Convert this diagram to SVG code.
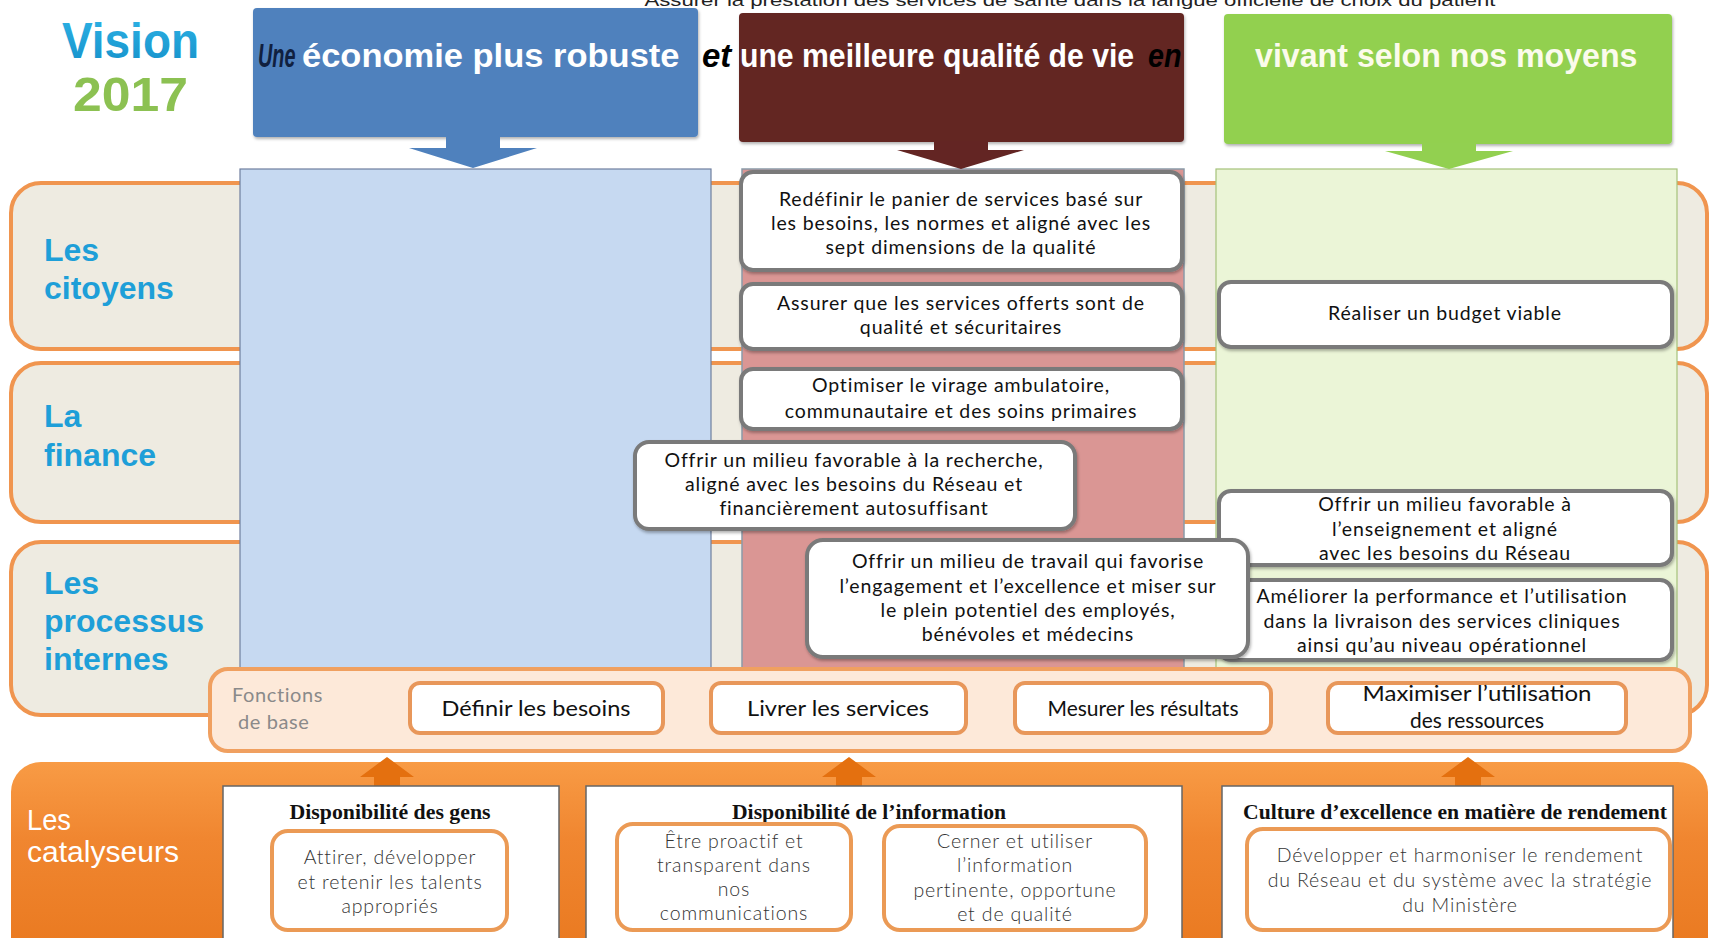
<svg xmlns="http://www.w3.org/2000/svg" width="1711" height="938" viewBox="0 0 1711 938">
<defs>
<style>
.row{fill:#eeebe1;stroke:#f0954f;stroke-width:4}
.lbl{font-family:"Liberation Sans",Arial,sans-serif;font-weight:bold;font-size:32px;fill:#1e9fd8}
.obj{fill:#fff;stroke:#7a7a7a;stroke-width:4}
.ot{font-family:Lato,"Open Sans",sans-serif;font-size:19.5px;letter-spacing:0.85px;fill:#111;text-anchor:middle}
.btn{fill:#fff;stroke:#e8975a;stroke-width:4}
.bt{font-family:Lato,"Open Sans",sans-serif;font-size:21px;fill:#111;text-anchor:middle}
.hd{font-family:"Liberation Sans",Arial,sans-serif;font-weight:bold;font-size:33px}
.cat{fill:#fff;stroke:#666;stroke-width:1.5}
.ct{font-family:"Liberation Serif","Times New Roman",serif;font-weight:bold;font-size:20px;fill:#111;text-anchor:middle}
.inn{fill:#fff;stroke:#eb9a55;stroke-width:4}
.it{font-family:Lato,"Open Sans",sans-serif;font-weight:300;font-size:19.5px;letter-spacing:0.85px;fill:#333;text-anchor:middle}
.up{fill:#e4700f}
</style>
<linearGradient id="catg" x1="0" y1="0" x2="0" y2="1">
<stop offset="0" stop-color="#f89b45"/>
<stop offset="0.35" stop-color="#f08630"/>
<stop offset="1" stop-color="#e8761c"/>
</linearGradient>
<linearGradient id="vis" x1="0" y1="0" x2="0" y2="1">
<stop offset="0" stop-color="#2eb3e6"/>
<stop offset="1" stop-color="#1590c9"/>
</linearGradient>
<filter id="sh" x="-5%" y="-10%" width="110%" height="125%">
<feDropShadow dx="1" dy="2" stdDeviation="1.5" flood-color="#000" flood-opacity="0.3"/>
</filter>
</defs>
<rect width="1711" height="938" fill="#fff"/>

<text x="1070" y="6" text-anchor="middle" font-family="Liberation Sans, Arial, sans-serif" font-size="17" fill="#222" textLength="851" lengthAdjust="spacingAndGlyphs">Assurer la prestation des services de santé dans la langue officielle de choix du patient</text>

<g id="vision">
<text x="62" y="58" font-family="Liberation Sans, Arial, sans-serif" font-weight="bold" font-size="50" fill="url(#vis)" textLength="137" lengthAdjust="spacingAndGlyphs">Vision</text>
<text x="73" y="111" font-family="Liberation Sans, Arial, sans-serif" font-weight="bold" font-size="48" fill="#8cc152" textLength="115" lengthAdjust="spacingAndGlyphs">2017</text>
</g>

<g id="rows">
<g id="row-citoyens"><rect class="row" x="11" y="183" width="1696" height="166" rx="30"/></g>
<g id="row-finance"><rect class="row" x="11" y="363" width="1696" height="159" rx="30"/></g>
<g id="row-processus"><rect class="row" x="11" y="542" width="1696" height="173" rx="30"/></g>
</g>

<g id="columns">
<rect x="240" y="169" width="471" height="499" fill="#c6d9f1" stroke="#6f7f9f" stroke-width="1.2"/>
<rect x="742" y="169" width="442" height="499" fill="#da9694" stroke="#8a9aa8" stroke-width="1.5"/>
<rect x="1216" y="169" width="461" height="499" fill="#ebf5d7" stroke="#a5c27a" stroke-width="1.2"/>
</g>

<g id="header-boxes">
<g id="h-economie">
<rect x="253" y="8" width="445" height="129" rx="4" fill="#4f81bd" filter="url(#sh)"/>
<path d="M446 136 H500 V148 H537 L473 168 L409 148 H446 Z" fill="#4f81bd"/>
</g>
<g id="h-qualite">
<rect x="739" y="13" width="445" height="129" rx="4" fill="#632523" filter="url(#sh)"/>
<path d="M934 141 H988 V150 H1024 L961 169 L897 150 H934 Z" fill="#632523"/>
</g>
<g id="h-moyens">
<rect x="1224" y="14" width="448" height="130" rx="4" fill="#92d050" filter="url(#sh)"/>
<path d="M1422 143 H1476 V151 H1513 L1449 169 L1385 151 H1422 Z" fill="#92d050"/>
</g>
</g>

<g id="header-text">
<text class="hd" transform="translate(258 67) scale(0.6 1)" fill="#10203f" font-style="italic">Une</text>
<text class="hd" transform="translate(302 67) scale(1.045 1)" fill="#fff">économie plus robuste</text>
<text class="hd" transform="translate(702 67)" fill="#000" font-style="italic">et</text>
<text class="hd" transform="translate(740 67) scale(0.915 1)" fill="#fff">une meilleure qualité de vie</text>
<text class="hd" transform="translate(1148 67) scale(0.87 1)" fill="#000" font-style="italic">en</text>
<text class="hd" transform="translate(1255 67) scale(0.975 1)" fill="#fbfbec">vivant selon nos moyens</text>
</g>

<g id="row-labels">
<text class="lbl" x="44" y="261">Les</text>
<text class="lbl" x="44" y="299">citoyens</text>
<text class="lbl" x="44" y="427">La</text>
<text class="lbl" x="44" y="466">finance</text>
<text class="lbl" x="44" y="594">Les</text>
<text class="lbl" x="44" y="632">processus</text>
<text class="lbl" x="44" y="670">internes</text>
</g>

<g id="obj1"><rect class="obj" x="741" y="172" width="441" height="98" rx="12" filter="url(#sh)"/>
<text class="ot" x="961" y="206">Redéfinir le panier de services basé sur</text>
<text class="ot" x="961" y="230">les besoins, les normes et aligné avec les</text>
<text class="ot" x="961" y="254">sept dimensions de la qualité</text></g>
<g id="obj2"><rect class="obj" x="741" y="284" width="441" height="65" rx="12" filter="url(#sh)"/>
<text class="ot" x="961" y="310">Assurer que les services offerts sont de</text>
<text class="ot" x="961" y="334">qualité et sécuritaires</text></g>
<g id="obj3"><rect class="obj" x="741" y="369" width="441" height="60" rx="12" filter="url(#sh)"/>
<text class="ot" x="961" y="392">Optimiser le virage ambulatoire,</text>
<text class="ot" x="961" y="418">communautaire et des soins primaires</text></g>
<g id="obj4"><rect class="obj" x="635" y="442" width="440" height="87" rx="14" filter="url(#sh)"/>
<text class="ot" x="854" y="467">Offrir un milieu favorable à la recherche,</text>
<text class="ot" x="854" y="491">aligné avec les besoins du Réseau et</text>
<text class="ot" x="854" y="515">financièrement autosuffisant</text></g>
<g id="obj6"><rect class="obj" x="1219" y="282" width="453" height="65" rx="12" filter="url(#sh)"/>
<text class="ot" x="1445" y="320">Réaliser un budget viable</text></g>
<g id="obj7"><rect class="obj" x="1219" y="491" width="453" height="74" rx="12" filter="url(#sh)"/>
<text class="ot" x="1445" y="511">Offrir un milieu favorable à</text>
<text class="ot" x="1445" y="536">l’enseignement et aligné</text>
<text class="ot" x="1445" y="560">avec les besoins du Réseau</text></g>
<g id="obj8"><rect class="obj" x="1219" y="580" width="453" height="80" rx="12" filter="url(#sh)"/>
<text class="ot" x="1442" y="603">Améliorer la performance et l’utilisation</text>
<text class="ot" x="1442" y="628">dans la livraison des services cliniques</text>
<text class="ot" x="1442" y="652">ainsi qu’au niveau opérationnel</text></g>
<g id="obj5"><rect class="obj" x="807" y="540" width="441" height="117" rx="16" filter="url(#sh)"/>
<text class="ot" x="1028" y="568">Offrir un milieu de travail qui favorise</text>
<text class="ot" x="1028" y="593">l’engagement et l’excellence et miser sur</text>
<text class="ot" x="1028" y="617">le plein potentiel des employés,</text>
<text class="ot" x="1028" y="641">bénévoles et médecins</text></g>

<g id="fonctions">
<rect x="210" y="669" width="1480" height="82" rx="18" fill="#fde9d9" stroke="#f0a060" stroke-width="4"/>
<text x="232" y="702" font-family="Lato, 'Open Sans', sans-serif" font-size="20" letter-spacing="0.6" fill="#8a8a8a">Fonctions</text>
<text x="238" y="729" font-family="Lato, 'Open Sans', sans-serif" font-size="20" letter-spacing="0.6" fill="#8a8a8a">de base</text>
</g>
<g id="f-definir"><rect class="btn" x="410" y="683" width="253" height="50" rx="10"/><text class="bt" x="536" y="716" textLength="189" lengthAdjust="spacingAndGlyphs">Définir les besoins</text></g>
<g id="f-livrer"><rect class="btn" x="711" y="683" width="255" height="50" rx="10"/><text class="bt" x="838" y="716" textLength="182" lengthAdjust="spacingAndGlyphs">Livrer les services</text></g>
<g id="f-mesurer"><rect class="btn" x="1015" y="683" width="256" height="50" rx="10"/><text class="bt" x="1143" y="716" textLength="191" lengthAdjust="spacingAndGlyphs">Mesurer les résultats</text></g>
<g id="f-maximiser"><rect class="btn" x="1328" y="683" width="298" height="50" rx="10"/><text class="bt" x="1477" y="701" textLength="229" lengthAdjust="spacingAndGlyphs">Maximiser l’utilisation</text><text class="bt" x="1477" y="728" textLength="134" lengthAdjust="spacingAndGlyphs">des ressources</text></g>

<g id="catalyseurs">
<rect x="11" y="762" width="1697" height="220" rx="30" fill="url(#catg)"/>
<text x="27" y="830" font-family="Liberation Sans, Arial, sans-serif" font-size="30" fill="#fff" textLength="44" lengthAdjust="spacingAndGlyphs">Les</text>
<text x="27" y="862" font-family="Liberation Sans, Arial, sans-serif" font-size="30" fill="#fff" textLength="152" lengthAdjust="spacingAndGlyphs">catalyseurs</text>
</g>

<g id="connectors">
<path class="up" d="M374 788 V777 H360 L387 757 L414 777 H400 V788 Z"/>
<path class="up" d="M836 788 V777 H822 L849 757 L876 777 H862 V788 Z"/>
<path class="up" d="M1455 788 V777 H1441 L1468 757 L1495 777 H1481 V788 Z"/>
</g>

<g id="c-gens">
<rect class="cat" x="223" y="786" width="336" height="170"/>
<text class="ct" x="390" y="819" textLength="201" lengthAdjust="spacingAndGlyphs">Disponibilité des gens</text>
<rect class="inn" x="272" y="831" width="235" height="99" rx="16"/>
<text class="it" x="390" y="864">Attirer, développer</text>
<text class="it" x="390" y="889">et retenir les talents</text>
<text class="it" x="390" y="913">appropriés</text>
</g>
<g id="c-information">
<rect class="cat" x="586" y="786" width="596" height="170"/>
<text class="ct" x="869" y="819" textLength="274" lengthAdjust="spacingAndGlyphs">Disponibilité de l’information</text>
<rect class="inn" x="617" y="824" width="234" height="106" rx="16"/>
<text class="it" x="734" y="848">Être proactif et</text>
<text class="it" x="734" y="872">transparent dans</text>
<text class="it" x="734" y="896">nos</text>
<text class="it" x="734" y="920">communications</text>
<rect class="inn" x="884" y="826" width="262" height="104" rx="16"/>
<text class="it" x="1015" y="848">Cerner et utiliser</text>
<text class="it" x="1015" y="872">l’information</text>
<text class="it" x="1015" y="897">pertinente, opportune</text>
<text class="it" x="1015" y="921">et de qualité</text>
</g>
<g id="c-rendement">
<rect class="cat" x="1222" y="786" width="451" height="170"/>
<text class="ct" x="1455" y="819" textLength="424" lengthAdjust="spacingAndGlyphs">Culture d’excellence en matière de rendement</text>
<rect class="inn" x="1247" y="829" width="423" height="101" rx="16"/>
<text class="it" x="1460" y="862">Développer et harmoniser le rendement</text>
<text class="it" x="1460" y="887">du Réseau et du système avec la stratégie</text>
<text class="it" x="1460" y="912">du Ministère</text>
</g>
</svg>
